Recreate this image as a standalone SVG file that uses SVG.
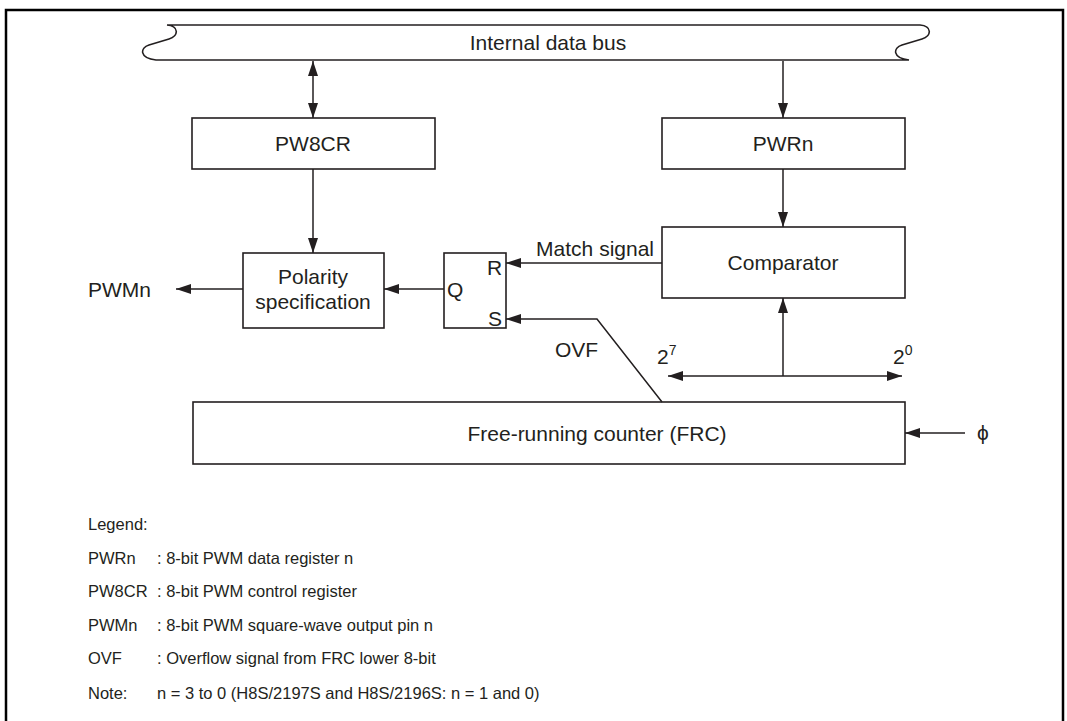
<svg xmlns="http://www.w3.org/2000/svg" width="1067" height="721" viewBox="0 0 1067 721">
<style>
  .box { fill: #fff; stroke: #231f20; stroke-width: 1.6; }
  .ln { fill: none; stroke: #231f20; stroke-width: 1.5; }
  .t { font-family: "Liberation Sans", Arial, sans-serif; font-size: 21px; fill: #231f20; }
  .lg { font-family: "Liberation Sans", Arial, sans-serif; font-size: 16.5px; fill: #231f20; }
  .c { text-anchor: middle; }
</style>
<defs>
  <marker id="ah" markerUnits="userSpaceOnUse" markerWidth="17" markerHeight="12" refX="15" refY="5" orient="auto-start-reverse" viewBox="0 0 17 10">
    <path d="M0,0 L15,5 L0,10 Z" fill="#231f20"/>
  </marker>
</defs>
<rect width="1067" height="721" fill="#fff"/>
<path d="M6,725 V10 H1063 V725" fill="none" stroke="#000" stroke-width="2.5"/>

<g id="bus">
  <path class="box" d="M167,25 H920 C932,26 932,36 922,39 L902,45 C893,48 892,58 909,60 H156 C139,58 140,48 149,45 L169,39 C179,36 179,26 167,25 Z"/>
  <text class="t c" x="548" y="50">Internal data bus</text>
</g>
<g id="pw8cr">
  <rect class="box" x="192" y="118" width="243" height="51"/>
  <text class="t c" x="313" y="151">PW8CR</text>
</g>
<g id="pwrn">
  <rect class="box" x="662" y="118" width="243" height="51"/>
  <text class="t c" x="783" y="151">PWRn</text>
</g>
<g id="comparator">
  <rect class="box" x="662" y="227" width="243" height="71"/>
  <text class="t c" x="783" y="270">Comparator</text>
</g>
<g id="polarity">
  <rect class="box" x="243" y="253" width="141" height="75"/>
  <text class="t c" x="313" y="284">Polarity</text>
  <text class="t c" x="313" y="309">specification</text>
</g>
<g id="flipflop">
  <rect class="box" x="444" y="253" width="62" height="75"/>
  <text class="t" x="447" y="297">Q</text>
  <text class="t" x="487" y="275">R</text>
  <text class="t" x="488" y="326">S</text>
</g>
<g id="frc">
  <rect class="box" x="193" y="402" width="712" height="62"/>
  <text class="t c" x="597" y="441">Free-running counter (FRC)</text>
</g>

<g id="connectors">
  <line class="ln" x1="313" y1="61" x2="313" y2="118" marker-start="url(#ah)" marker-end="url(#ah)"/>
  <line class="ln" x1="783" y1="61" x2="783" y2="118" marker-end="url(#ah)"/>
  <line class="ln" x1="313" y1="169" x2="313" y2="253" marker-end="url(#ah)"/>
  <line class="ln" x1="783" y1="169" x2="783" y2="227" marker-end="url(#ah)"/>
  <line class="ln" x1="243" y1="289" x2="176" y2="289" marker-end="url(#ah)"/>
  <line class="ln" x1="444" y1="289" x2="384" y2="289" marker-end="url(#ah)"/>
  <line class="ln" x1="662" y1="263" x2="506" y2="263" marker-end="url(#ah)"/>
  <polyline class="ln" points="662,402 597,319 506,319" marker-end="url(#ah)"/>
  <line class="ln" x1="783" y1="376" x2="783" y2="298" marker-end="url(#ah)"/>
  <line class="ln" x1="668" y1="376" x2="902" y2="376" marker-start="url(#ah)" marker-end="url(#ah)"/>
  <line class="ln" x1="965" y1="433" x2="905" y2="433" marker-end="url(#ah)"/>
</g>

<g id="labels">
  <text class="t" x="654" y="256" text-anchor="end">Match signal</text>
  <text class="t" x="555" y="357">OVF</text>
  <text class="t" x="657" y="364">2<tspan font-size="14" dy="-9">7</tspan></text>
  <text class="t" x="893" y="364">2<tspan font-size="14" dy="-9">0</tspan></text>
  <text class="t" x="88" y="297">PWMn</text>
  <text class="t" x="977" y="440" font-family="'Liberation Serif', 'DejaVu Serif', serif">ϕ</text>
</g>

<g id="legend">
  <text class="lg" x="88" y="530">Legend:</text>
  <text class="lg" x="88" y="564">PWRn</text>
  <text class="lg" x="157" y="564">: 8-bit PWM data register n</text>
  <text class="lg" x="88" y="597">PW8CR</text>
  <text class="lg" x="157" y="597">: 8-bit PWM control register</text>
  <text class="lg" x="88" y="631">PWMn</text>
  <text class="lg" x="157" y="631">: 8-bit PWM square-wave output pin n</text>
  <text class="lg" x="88" y="664">OVF</text>
  <text class="lg" x="157" y="664">: Overflow signal from FRC lower 8-bit</text>
  <text class="lg" x="88" y="699">Note:</text>
  <text class="lg" x="157" y="699">n = 3 to 0 (H8S/2197S and H8S/2196S: n = 1 and 0)</text>
</g>
</svg>
